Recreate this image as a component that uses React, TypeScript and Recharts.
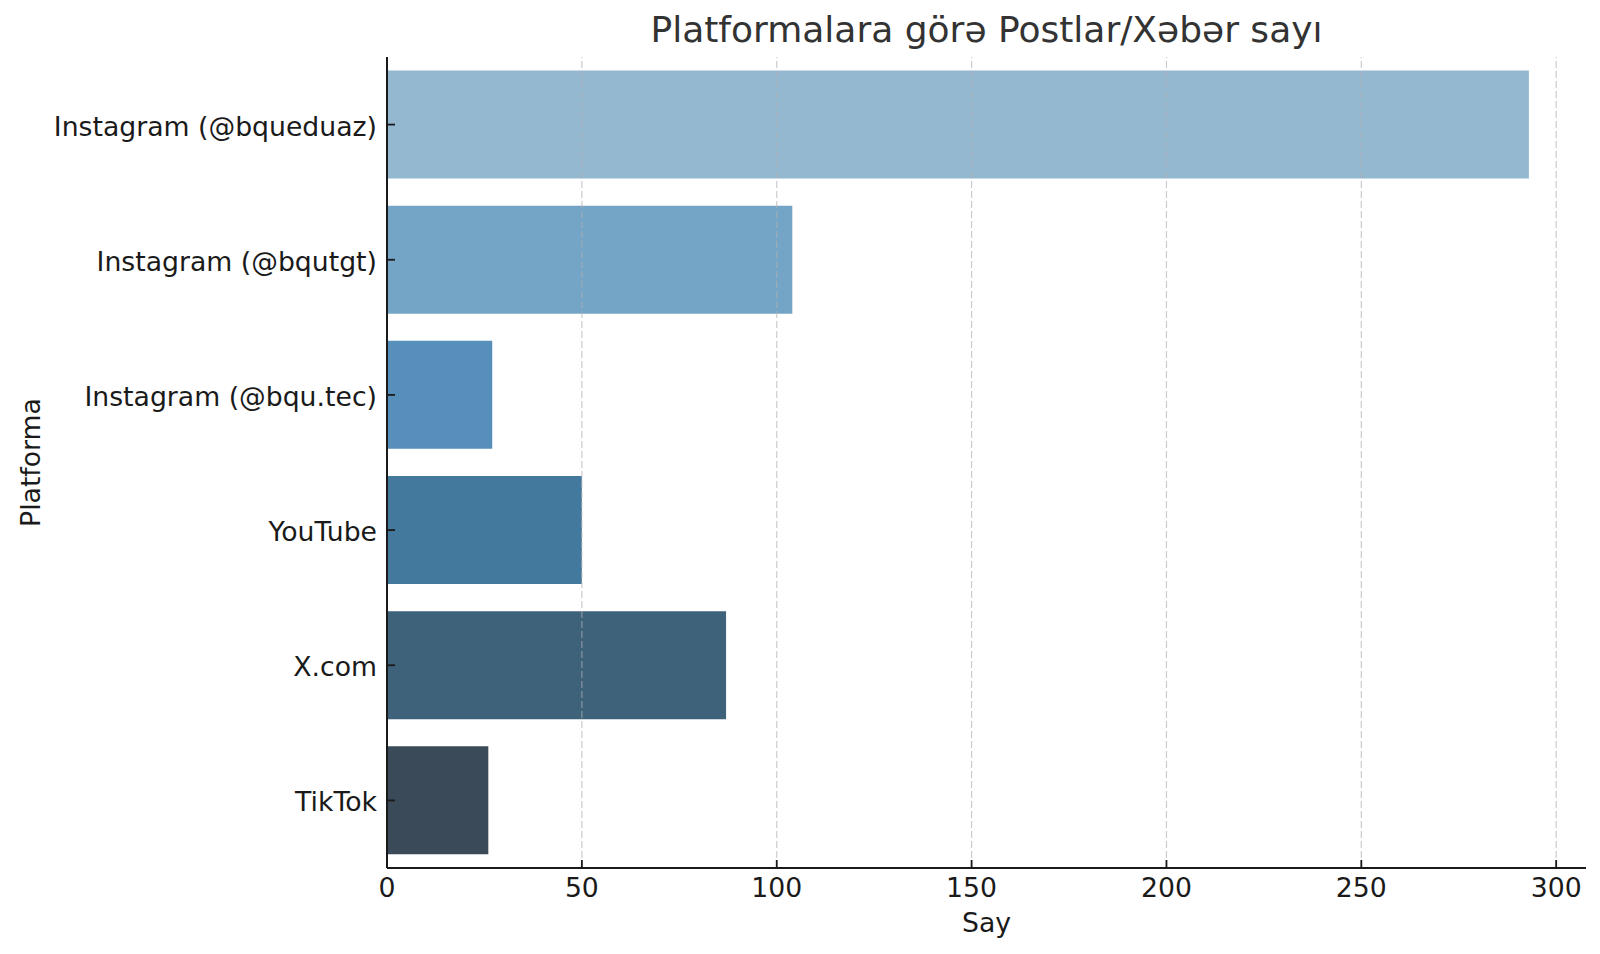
import React from "react";
import { BarChart, Bar, Cell, XAxis, YAxis, ReferenceLine, Label } from "recharts";

const platforms = [
  "Instagram (@bqueduaz)",
  "Instagram (@bqutgt)",
  "Instagram (@bqu.tec)",
  "YouTube",
  "X.com",
  "TikTok",
];
const counts = [293, 104, 27, 50, 87, 26];
const xTicks = [0, 50, 100, 150, 200, 250, 300];
const xMax = 307.65;

const COLORS = ["#95b8d1", "#75a5c6", "#568fba", "#44799e", "#3f627b", "#3a4a58"];
const FONT = "'DejaVu Sans', sans-serif";
const TEXT = "#1a1a1a";

const data = platforms.map((name, i) => ({ name, value: counts[i] }));

function XTick(props: any) {
  const { x, y, payload } = props;
  return (
    <g>
      <line x1={x} x2={x} y1={y} y2={y - 8} stroke="#1a1a1a" strokeWidth={1.8} />
      <text x={x} y={y + 29} textAnchor="middle" fontFamily={FONT} fontSize={26.7} fill={TEXT}>
        {payload.value}
      </text>
    </g>
  );
}

function YTick(props: any) {
  const { x, y, payload } = props;
  return (
    <g>
      <line x1={x} x2={x + 8} y1={y} y2={y} stroke="#1a1a1a" strokeWidth={1.8} />
      <text x={x - 10} y={y + 11} textAnchor="end" fontFamily={FONT} fontSize={26.7} fill={TEXT}>
        {payload.value}
      </text>
    </g>
  );
}

export default function App() {
  return (
    <div style={{ position: "absolute", left: 0, top: 0, width: 1600, height: 954, background: "#fff" }}>
      <BarChart
        width={1600}
        height={954}
        data={data}
        layout="vertical"
        margin={{ top: 57, right: 14, bottom: 0, left: 0 }}
        barCategoryGap="10%"
      >
        <XAxis
          type="number"
          domain={[0, xMax]}
          ticks={xTicks}
          height={86}
          tickSize={0}
          tickMargin={0}
          tickLine={false}
          tick={<XTick />}
          axisLine={{ stroke: "#1a1a1a", strokeWidth: 2 }}
          allowDataOverflow
        >
          <Label
            content={(p: any) => {
              const vb = p.viewBox;
              return (
                <text x={vb.x + vb.width / 2} y={vb.y + 64} textAnchor="middle" fontFamily={FONT} fontSize={26.7} fill={TEXT}>
                  Say
                </text>
              );
            }}
          />
        </XAxis>
        <YAxis
          type="category"
          dataKey="name"
          width={387}
          tickSize={0}
          tickMargin={0}
          tickLine={false}
          tick={<YTick />}
          axisLine={{ stroke: "#1a1a1a", strokeWidth: 2 }}
          interval={0}
        >
          <Label
            content={(p: any) => {
              const vb = p.viewBox;
              const cy = vb.y + vb.height / 2;
              return (
                <text
                  x={40}
                  y={cy}
                  transform={`rotate(-90, 40, ${cy})`}
                  textAnchor="middle"
                  fontFamily={FONT}
                  fontSize={26.7}
                  fill={TEXT}
                >
                  Platforma
                </text>
              );
            }}
          />
        </YAxis>
        <Bar dataKey="value" isAnimationActive={false}>
          {data.map((d, i) => (
            <Cell key={d.name} fill={COLORS[i % COLORS.length]} />
          ))}
        </Bar>
        {xTicks
          .filter((t) => t > 0)
          .map((t) => (
            <ReferenceLine key={t} x={t} stroke="#b0b0b0" strokeOpacity={0.65} strokeWidth={1.2} strokeDasharray="7 3" />
          ))}
      </BarChart>
      <svg width={1600} height={60} style={{ position: "absolute", left: 0, top: 0, pointerEvents: "none" }}>
        <text x={986.5} y={42} textAnchor="middle" fontFamily={FONT} fontSize={36} fill="#333">
          Platformalara görə Postlar/Xəbər sayı
        </text>
      </svg>
    </div>
  );
}
